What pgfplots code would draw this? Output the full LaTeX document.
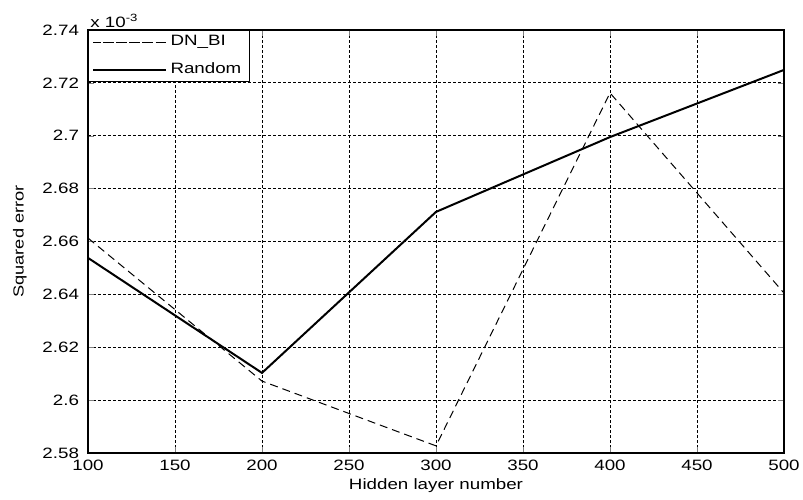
\documentclass[border=0pt]{standalone}
\usepackage{fontspec}
\setmainfont{Liberation Sans}[FakeStretch=1.25]
\usepackage{pgfplots}
\pgfplotsset{compat=1.18}

\begin{document}
\begin{tikzpicture}
\begin{axis}[
  scale only axis,
  width=348pt, height=211.5pt,
  xmin=100, xmax=500,
  ymin=2.58, ymax=2.74,
  xtick={100,150,...,500},
  ytick={2.58,2.6,2.62,2.64,2.66,2.68,2.7,2.72,2.74},
  yticklabels={2.58,2.6,2.62,2.64,2.66,2.68,2.7,2.72,2.74},
  /pgf/number format/assume math mode=true,
  tick label style={font=\fontsize{7.5}{8}\selectfont},
  xticklabel style={yshift=0pt},
  yticklabel style={xshift=-1pt},
  tick align=inside,
  major tick length=3pt,
  axis line style={line width=0.6pt},
  grid=major,
  grid style={black, line width=0.4pt, dash pattern=on 1.5pt off 1pt},
  xlabel={Hidden layer number},
  ylabel={Squared error},
  xlabel style={font=\fontsize{7.5}{8}\selectfont, yshift=3pt},
  ylabel style={font=\fontsize{7.3}{8}\selectfont, yshift=1pt},
  clip mode=individual,
  legend cell align=left,
  legend style={at={(0,1)}, anchor=north west, font=\fontsize{7.5}{8}\selectfont,
    draw=black, line width=0.5pt, inner xsep=2pt, inner ysep=0.5pt, row sep=3pt},
  legend image code/.code={\path (0pt,0pt) -- (36pt,0pt);\draw[#1] (5pt,0pt) -- (36pt,0pt);},
]
\addplot[black, line width=0.5pt, dash pattern=on 4pt off 2.5pt]
  coordinates {(100,2.6613) (200,2.6072) (300,2.5827) (400,2.7162) (500,2.6405)};
\addlegendentry{DN\_BI}
\addplot[black, line width=1pt]
  coordinates {(100,2.6538) (200,2.6103) (300,2.6712) (400,2.6995) (500,2.7249)};
\addlegendentry{Random}
\coordinate (sw) at (rel axis cs:0,0);
\coordinate (ne) at (rel axis cs:1,1);
\node[anchor=south west, font=\fontsize{7.5}{8}\selectfont, inner sep=1pt] at (rel axis cs:0,1) {x 10\textsuperscript{-3}};
\end{axis}
\pgfresetboundingbox
\path[use as bounding box] ([shift={(-44pt,-23pt)}]sw) rectangle ([shift={(9.5pt,15pt)}]ne);
\end{tikzpicture}
\end{document}
